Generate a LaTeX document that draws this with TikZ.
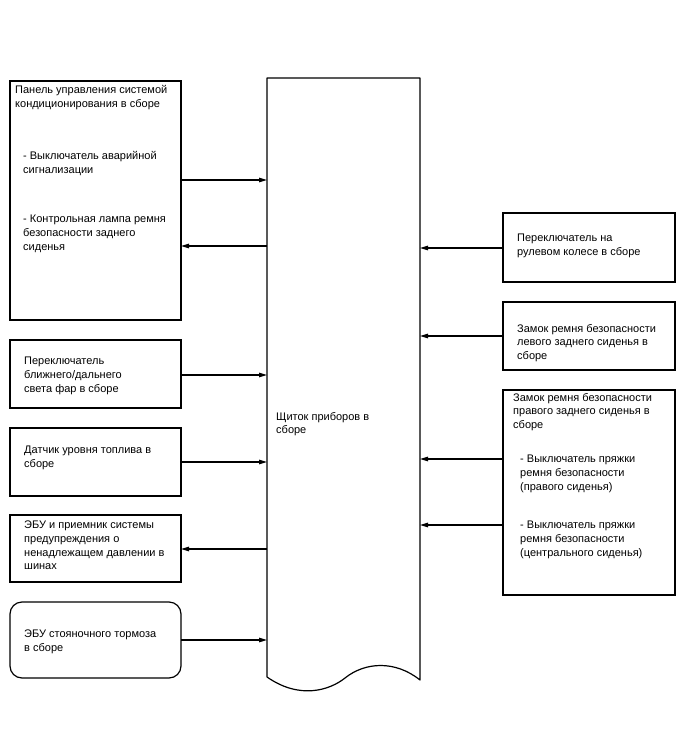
\documentclass[tikz,border=0pt]{standalone}
\usepackage{fontspec}
\setmainfont{Liberation Sans}
\usetikzlibrary{arrows.meta}
\begin{document}
\begin{tikzpicture}[x=1pt,y=-1pt,
  box/.style={draw,line width=1.2pt,anchor=north west,inner sep=0pt,outer sep=0pt},
  txt/.style={anchor=north west,align=left,inner sep=0pt,font=\fontsize{11}{13.7}\selectfont},
  arr/.style={line width=1.1pt,-{Triangle[length=8pt,width=4.5pt]}}]
\useasboundingbox (0,0) rectangle (688,755);
% left boxes
\node[box,minimum width=171pt,minimum height=239pt] (b1) at (10,81) {};
\node[box,minimum width=171pt,minimum height=68pt] (b2) at (10,340) {};
\node[box,minimum width=171pt,minimum height=68pt] (b3) at (10,428) {};
\node[box,minimum width=171pt,minimum height=67pt] (b4) at (10,515) {};
\node[box,minimum width=171pt,minimum height=76pt,rounded corners=12pt] (b5) at (10,602) {};
% right boxes
\node[box,minimum width=172pt,minimum height=69pt] (r1) at (503,213) {};
\node[box,minimum width=172pt,minimum height=68pt] (r2) at (503,302) {};
\node[box,minimum width=172pt,minimum height=205pt] (r3) at (503,390) {};
% main block
\node[anchor=north west,inner sep=0pt,outer sep=0pt,minimum width=153pt,minimum height=599pt] (main) at (267,78) {};
\draw[line width=1.2pt,line join=round] (main.south west) -- (main.north west) -- (main.north east) -- (420,680)
  .. controls (395,660) and (365,662) .. (345,678)
  .. controls (330,690) and (300,700) .. (main.south west);
% texts
\node[txt] (t1a) at (15,85) {Панель управления системой\\кондиционирования в сборе};
\node[txt] (t1b) at (23,151) {- Выключатель аварийной\\сигнализации};
\node[txt] (t1c) at (23,215) {- Контрольная лампа ремня\\безопасности заднего\\сиденья};
\node[txt] (t2) at (24,357) {Переключатель\\ближнего/дальнего\\света фар в сборе};
\node[txt] (t3) at (24,446) {Датчик уровня топлива в\\сборе};
\node[txt] (t4) at (24,521) {ЭБУ и приемник системы\\предупреждения о\\ненадлежащем давлении в\\шинах};
\node[txt] (t5) at (24,630) {ЭБУ стояночного тормоза\\в сборе};
\node[txt] (tm) at (276,412) {Щиток приборов в\\сборе};
\node[txt] (tr1) at (517,234) {Переключатель на\\рулевом колесе в сборе};
\node[txt] (tr2) at (517,324) {Замок ремня безопасности\\левого заднего сиденья в\\сборе};
\node[txt] (tr3a) at (513,393) {Замок ремня безопасности\\правого заднего сиденья в\\сборе};
\node[txt] (tr3b) at (520,455) {- Выключатель пряжки\\ремня безопасности\\(правого сиденья)};
\node[txt] (tr3c) at (520,521) {- Выключатель пряжки\\ремня безопасности\\(центрального сиденья)};
% connectors
\draw[arr] (b1.east |- 0,180) -- (main.west |- 0,180);
\draw[arr] (main.west |- 0,246) -- (b1.east |- 0,246);
\draw[arr] (b2.east |- 0,375) -- (main.west |- 0,375);
\draw[arr] (b3.east |- 0,462) -- (main.west |- 0,462);
\draw[arr] (main.west |- 0,549) -- (b4.east |- 0,549);
\draw[arr] (b5.east |- 0,640) -- (main.west |- 0,640);
\draw[arr] (r1.west |- 0,248) -- (main.east |- 0,248);
\draw[arr] (r2.west |- 0,336) -- (main.east |- 0,336);
\draw[arr] (r3.west |- 0,459) -- (main.east |- 0,459);
\draw[arr] (r3.west |- 0,525) -- (main.east |- 0,525);
\end{tikzpicture}
\end{document}
